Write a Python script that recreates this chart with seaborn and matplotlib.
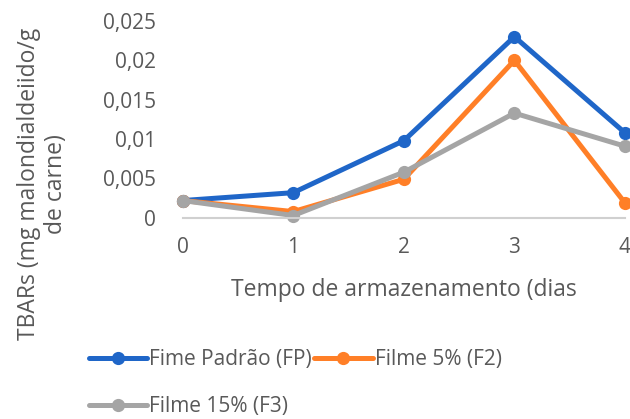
import pandas as pd
import matplotlib.pyplot as plt
import seaborn as sns

# data
dias = [0, 1, 2, 3, 4]
fp = [0.0022, 0.0032, 0.0098, 0.0230, 0.0108]
f2 = [0.0022, 0.0008, 0.0049, 0.0200, 0.0019]
f3 = [0.0022, 0.0003, 0.0058, 0.0133, 0.0091]
nomes = ['Fime Padrão (FP)', 'Filme 5% (F2)', 'Filme 15% (F3)']
cores = ['#1f66c8', '#ff7f27', '#a5a5a5']
yticks = [0, 0.005, 0.01, 0.015, 0.02, 0.025]
ytick_labels = ['0', '0,005', '0,01', '0,015', '0,02', '0,025']

df = pd.DataFrame({
    'dia': dias * 3,
    'tbars': fp + f2 + f3,
    'filme': [n for n in nomes for _ in dias],
})

sns.set_style('white')
plt.rcParams['font.family'] = ['Open Sans', 'DejaVu Sans']
texto = '#595959'

fig = plt.figure(figsize=(6.3, 4.19), dpi=100)
ax = fig.add_axes([0.29, 0.48, 0.702, 0.47])

sns.lineplot(data=df, x='dia', y='tbars', hue='filme', hue_order=nomes,
             palette=cores, marker='o', markersize=9.5, markeredgewidth=0,
             linewidth=3.6, ax=ax, clip_on=False)

ax.set_xlim(0, 4)
ax.set_ylim(0, 0.025)
ax.set_xticks(dias)
ax.set_yticks(yticks)
ax.set_yticklabels(ytick_labels)
ax.tick_params(axis='both', length=0, labelsize=15, colors=texto)
ax.tick_params(axis='x', pad=14)
ax.tick_params(axis='y', pad=19)
for s in ['top', 'right', 'left']:
    ax.spines[s].set_visible(False)
ax.spines['bottom'].set_color('#d0d0d0')
ax.spines['bottom'].set_linewidth(1.5)

ax.set_xlabel('Tempo de armazenamento (dias', fontsize=16.5, color=texto, labelpad=14)
ax.set_ylabel('')
fig.text(0.068, 0.56, 'TBARs (mg malondialdeiido/g\nde carne)', rotation=90,
         ha='center', va='center', fontsize=16.5, color=texto, linespacing=1.15)

h, l = ax.get_legend_handles_labels()
ordem = [0, 2, 1]
ax.legend([h[i] for i in ordem], [l[i] for i in ordem], ncol=2, frameon=False,
          loc='upper left', bbox_to_anchor=(0.128, 0.187), bbox_transform=fig.transFigure,
          fontsize=15, labelcolor=texto, handlelength=2.8, handletextpad=0.1,
          columnspacing=0.1, labelspacing=1.25, borderaxespad=0)

fig.savefig('out.png', dpi=100)
